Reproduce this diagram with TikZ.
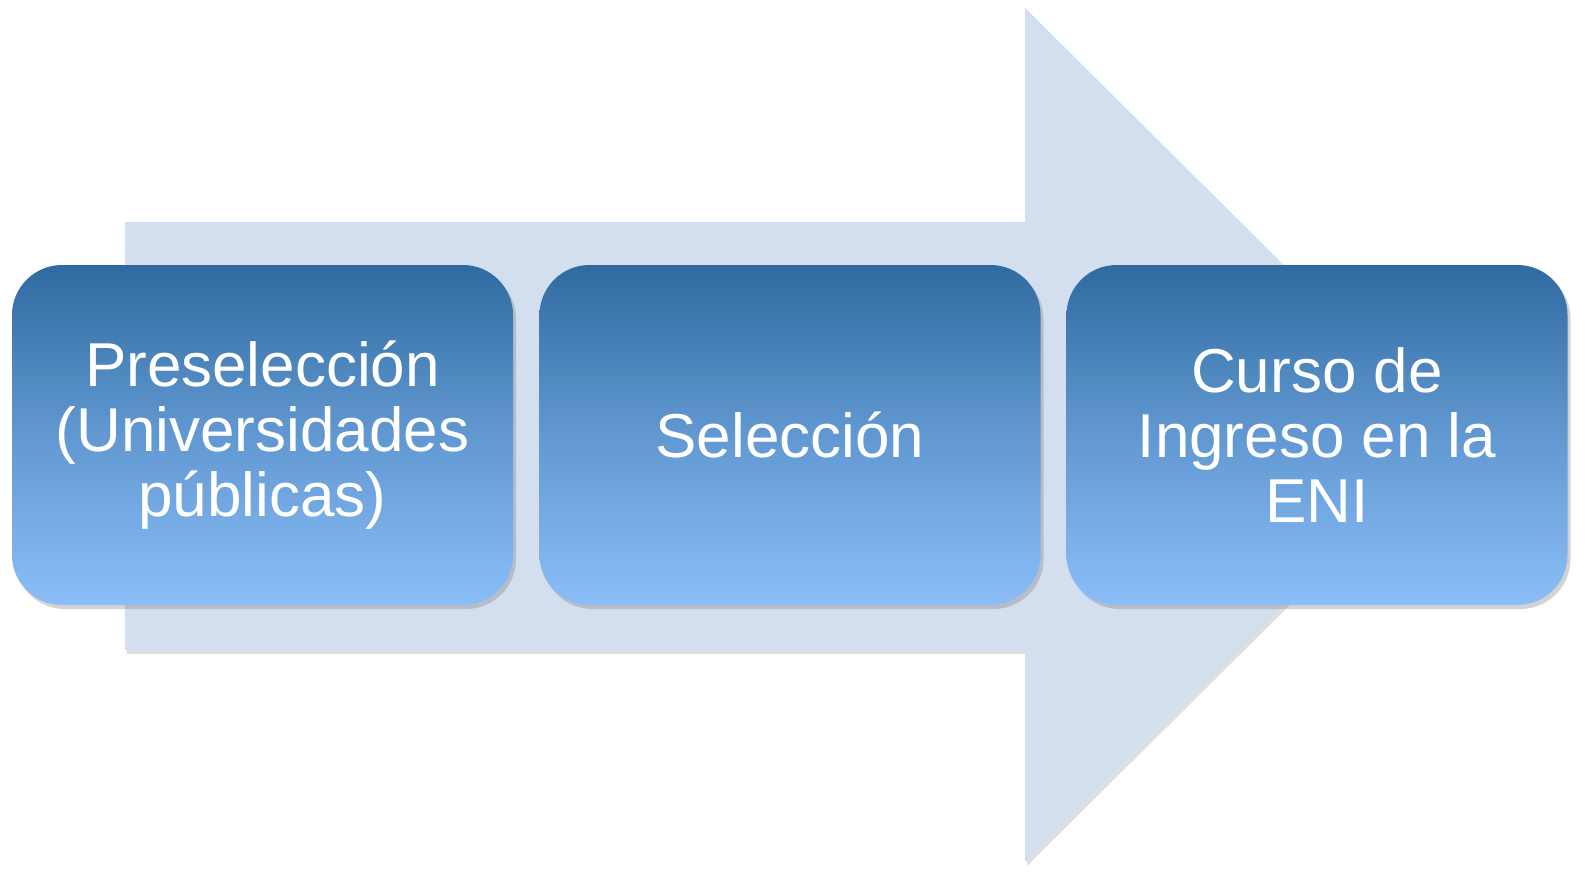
\documentclass[tikz,border=0pt]{standalone}
\usepackage{fontspec}
\setmainfont{Liberation Sans}
\usepackage{tikz}
\usetikzlibrary{shadows,positioning}

\definecolor{flecha}{RGB}{211,223,238}
\definecolor{azultop}{RGB}{47,106,160}
\definecolor{azulbot}{RGB}{139,190,249}

\tikzset{etapa/.style={rounded corners=25pt, minimum width=250.5pt, minimum height=170pt,
		top color=azultop, bottom color=azulbot, middle color=azultop!45!azulbot,
		text=white, align=center, font=\fontsize{31pt}{32.5pt}\selectfont,
		drop shadow={shadow xshift=1.5pt, shadow yshift=-2pt, opacity=0.35}}}

\begin{document}
\begin{tikzpicture}[x=0.5pt,y=-0.5pt]
	\useasboundingbox (0,0) rectangle (1595,880);
	\fill[flecha, drop shadow={shadow xshift=1pt, shadow yshift=-2pt, opacity=0.25}]
		(125,222) -- (1025,222) -- (1025,8) -- (1455,435) -- (1025,862) -- (1025,650) -- (125,650) -- cycle;
	\path (262.5,435) node (1) [etapa] {Preselección\\(Universidades\\públicas)}
		  (790,435) node (2) [etapa] {Selección}
		  (1317,435) node (3) [etapa] {Curso de\\Ingreso en la\\ENI};
\end{tikzpicture}
\end{document}
